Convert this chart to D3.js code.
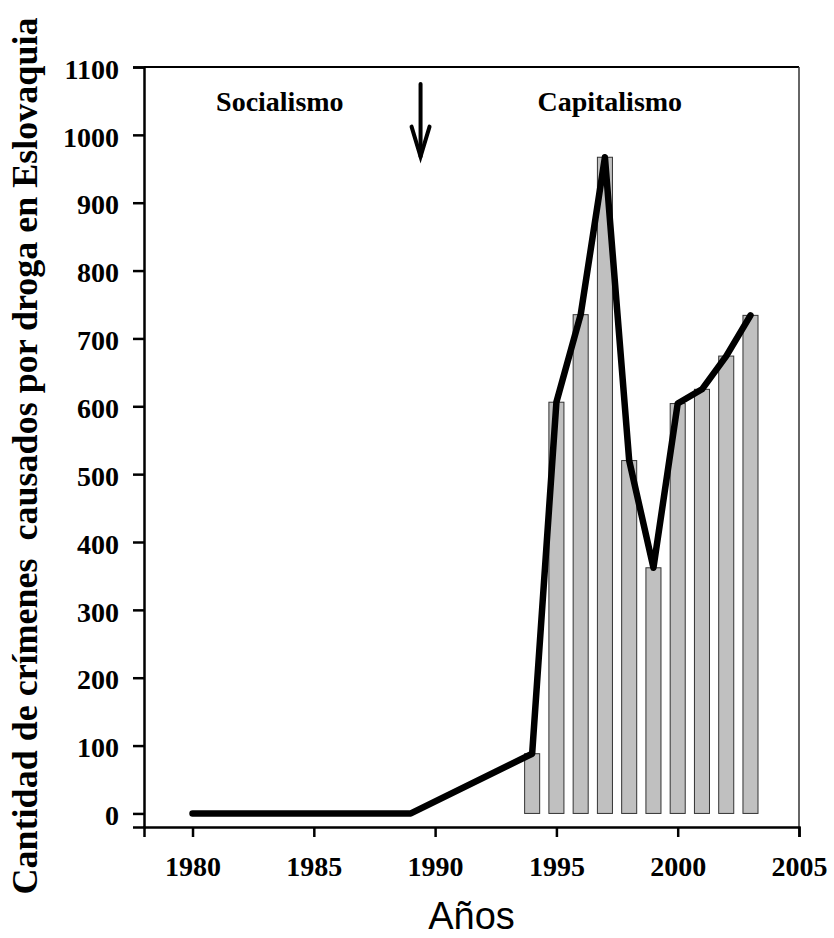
<!DOCTYPE html>
<meta charset="utf-8">
<style>
body { margin: 0; background: #fff; }
.axis text { font: bold 28px "Liberation Serif", "Times New Roman", serif; fill: #000; }
.axis path, .axis line { stroke: #000; stroke-width: 2.5; }
.note { font: bold 28px "Liberation Serif", "Times New Roman", serif; }
</style>
<script src="https://cdn.jsdelivr.net/npm/d3@7"></script>
<body>
<script>

// data
var lineYears = [1980, 1981, 1982, 1983, 1984, 1985, 1986, 1987, 1988, 1989,
                 1994, 1995, 1996, 1997, 1998, 1999, 2000, 2001, 2002, 2003];
var lineValues = [0, 0, 0, 0, 0, 0, 0, 0, 0, 0,
                  88, 606, 735, 967, 520, 362, 604, 625, 674, 734];
var barYears = [1994, 1995, 1996, 1997, 1998, 1999, 2000, 2001, 2002, 2003];
var barValues = [88, 606, 735, 967, 520, 362, 604, 625, 674, 734];
var xTicks = [1980, 1985, 1990, 1995, 2000, 2005];
var yTicks = [0, 100, 200, 300, 400, 500, 600, 700, 800, 900, 1000, 1100];

var margin = {top: 67, right: 35, bottom: 111, left: 144},
    width = 834 - margin.left - margin.right,
    height = 938 - margin.top - margin.bottom;

var svg = d3.select("body").append("svg")
    .attr("width", 834)
    .attr("height", 938);

var g = svg.append("g")
    .attr("transform", "translate(" + margin.left + "," + margin.top + ")");

var x = d3.scaleLinear().domain([1978, 2005]).range([0, width]);
var y = d3.scaleLinear().domain([-20, 1100]).range([height, 0]);

// frame top / right
g.append("line")
    .attr("x1", 0).attr("x2", width).attr("y1", 0).attr("y2", 0)
    .attr("stroke", "#000").attr("stroke-width", 2);
g.append("line")
    .attr("x1", width).attr("x2", width).attr("y1", 0).attr("y2", height)
    .attr("stroke", "#333").attr("stroke-width", 1.5);

var barW = (x(1) - x(0)) * 0.62;

g.selectAll("rect.bar")
    .data(barYears)
    .enter().append("rect")
    .attr("class", "bar")
    .attr("x", function(d) { return x(d) - barW / 2; })
    .attr("y", function(d, i) { return y(barValues[i]); })
    .attr("width", barW)
    .attr("height", function(d, i) { return y(0) - y(barValues[i]); })
    .attr("fill", "#c0c0c0")
    .attr("stroke", "#333")
    .attr("stroke-width", 1);

var line = d3.line()
    .x(function(d) { return x(d[0]); })
    .y(function(d) { return y(d[1]); });

g.append("path")
    .datum(d3.zip(lineYears, lineValues))
    .attr("d", line)
    .attr("fill", "none")
    .attr("stroke", "#000")
    .attr("stroke-width", 6.5)
    .attr("stroke-linecap", "round")
    .attr("stroke-linejoin", "round");

var xAxis = d3.axisBottom(x)
    .tickValues(xTicks)
    .tickFormat(d3.format("d"))
    .tickSizeOuter(0)
    .tickSize(10)
    .tickPadding(19);

g.append("g")
    .attr("class", "x axis")
    .attr("transform", "translate(0," + height + ")")
    .call(xAxis);

var yAxis = d3.axisLeft(y)
    .tickValues(yTicks)
    .tickFormat(d3.format("d"))
    .tickSizeOuter(0)
    .tickSize(11)
    .tickPadding(14);

g.append("g")
    .attr("class", "y axis")
    .call(yAxis);

g.selectAll(".y.axis text").attr("dy", "0.4em");

// annotations
g.append("text")
    .attr("class", "note")
    .attr("x", x(1983.6)).attr("y", y(1035))
    .attr("text-anchor", "middle")
    .text("Socialismo");

g.append("text")
    .attr("class", "note")
    .attr("x", x(1997.2)).attr("y", y(1035))
    .attr("text-anchor", "middle")
    .text("Capitalismo");

var ax = x(1989.4);
g.append("line")
    .attr("x1", ax).attr("x2", ax)
    .attr("y1", y(1075)).attr("y2", y(968))
    .attr("stroke", "#000").attr("stroke-width", 4).attr("stroke-linecap", "round");
g.append("path")
    .attr("d", "M" + (ax - 9) + "," + (y(968) - 30) + "L" + ax + "," + y(968) + "L" + (ax + 9) + "," + (y(968) - 30))
    .attr("fill", "none")
    .attr("stroke", "#000").attr("stroke-width", 4)
    .attr("stroke-linecap", "round").attr("stroke-linejoin", "miter");

// axis titles
svg.append("text")
    .attr("x", margin.left + width / 2)
    .attr("y", 929)
    .attr("text-anchor", "middle")
    .style("font", "38px 'Liberation Sans', Arial, sans-serif")
    .text("Años");

svg.append("text")
    .attr("transform", "translate(37,456) rotate(-90)")
    .attr("text-anchor", "middle")
    .style("font", "bold 36px 'Liberation Serif', 'Times New Roman', serif")
    .style("white-space", "pre")
    .text("Cantidad de crímenes  causados por droga en Eslovaquia");

</script>
</body>
